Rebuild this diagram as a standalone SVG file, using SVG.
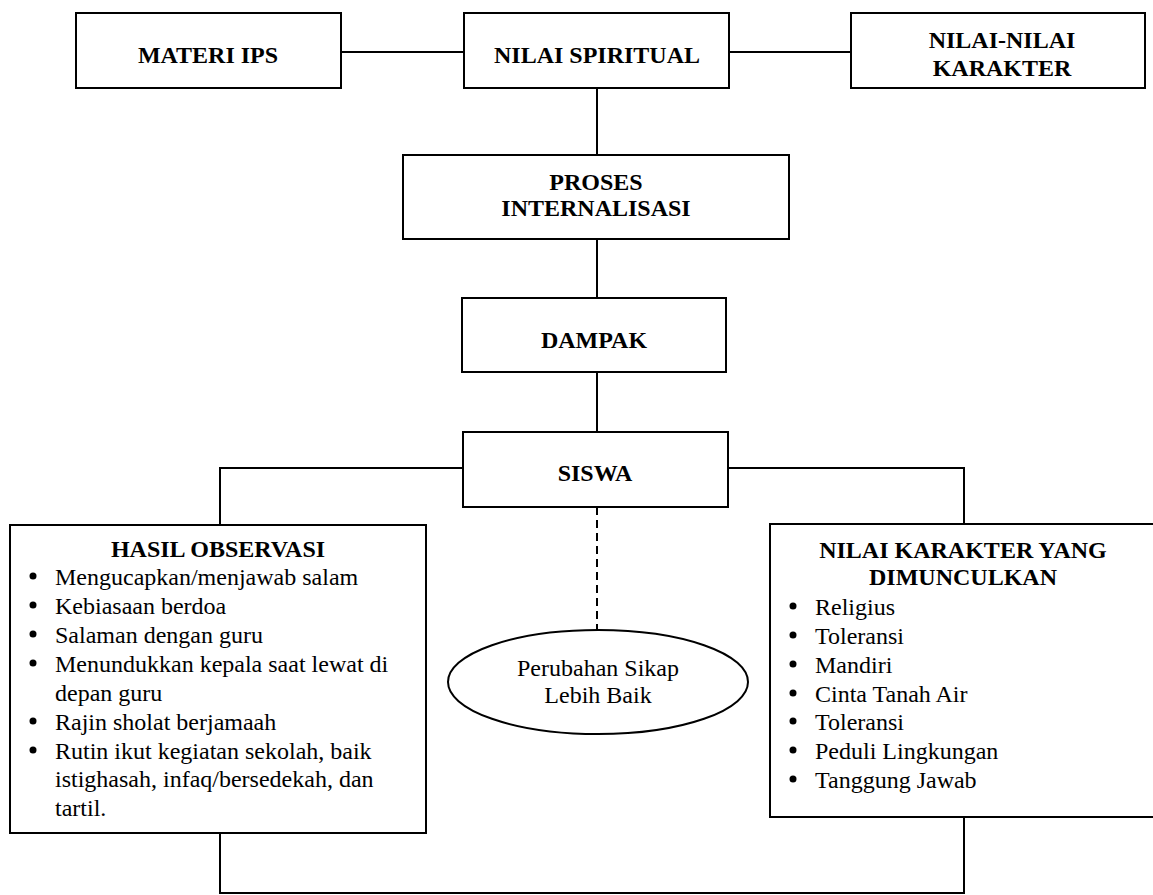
<svg xmlns="http://www.w3.org/2000/svg" width="1153" height="895" viewBox="0 0 1153 895">
<style>
.box{fill:#fff;stroke:#000;stroke-width:2}
.ln{fill:none;stroke:#000;stroke-width:2}
.dash{fill:none;stroke:#000;stroke-width:2;stroke-dasharray:8 5}
.b{font-family:"Liberation Serif","Times New Roman",serif;font-weight:bold;font-size:24px;fill:#000;text-anchor:middle}
.t{font-family:"Liberation Serif","Times New Roman",serif;font-size:24px;fill:#000}
.c{text-anchor:middle}
</style>
<rect width="1153" height="895" fill="#fff"/>
<g id="connectors">
<line class="ln" x1="341" y1="52" x2="464" y2="52"/>
<line class="ln" x1="729" y1="52" x2="851" y2="52"/>
<line class="ln" x1="597" y1="88" x2="597" y2="155"/>
<line class="ln" x1="597" y1="239" x2="597" y2="298"/>
<line class="ln" x1="597" y1="372" x2="597" y2="432"/>
<polyline class="ln" points="463,468 220,468 220,525"/>
<polyline class="ln" points="728,468 964,468 964,524"/>
<line class="dash" x1="597" y1="507" x2="597" y2="630"/>
<polyline class="ln" points="220,833 220,893 964,893 964,817"/>
</g>
<g id="materi">
<rect class="box" x="76" y="13" width="265" height="75"/>
<text class="b" x="208" y="63">MATERI IPS</text>
</g>
<g id="spiritual">
<rect class="box" x="464" y="13" width="265" height="75"/>
<text class="b" x="597" y="63">NILAI SPIRITUAL</text>
</g>
<g id="karakter">
<rect class="box" x="851" y="13" width="294" height="75"/>
<text class="b" x="1002" y="48">NILAI-NILAI</text>
<text class="b" x="1002" y="76">KARAKTER</text>
</g>
<g id="proses">
<rect class="box" x="403" y="155" width="386" height="84"/>
<text class="b" x="596" y="190">PROSES</text>
<text class="b" x="596" y="216">INTERNALISASI</text>
</g>
<g id="dampak">
<rect class="box" x="462" y="298" width="264" height="74"/>
<text class="b" x="594" y="348">DAMPAK</text>
</g>
<g id="siswa">
<rect class="box" x="463" y="432" width="265" height="75"/>
<text class="b" x="595" y="481">SISWA</text>
</g>
<g id="hasil">
<rect class="box" x="10" y="525" width="416" height="308"/>
<text class="b" x="218" y="557">HASIL OBSERVASI</text>
<g fill="#000">
<circle cx="33" cy="576" r="3.5"/>
<circle cx="33" cy="605" r="3.5"/>
<circle cx="33" cy="634" r="3.5"/>
<circle cx="33" cy="663" r="3.5"/>
<circle cx="33" cy="721" r="3.5"/>
<circle cx="33" cy="750" r="3.5"/>
</g>
<text class="t" x="55" y="585">Mengucapkan/menjawab salam</text>
<text class="t" x="55" y="614">Kebiasaan berdoa</text>
<text class="t" x="55" y="643">Salaman dengan guru</text>
<text class="t" x="55" y="672">Menundukkan kepala saat lewat di</text>
<text class="t" x="55" y="701">depan guru</text>
<text class="t" x="55" y="730">Rajin sholat berjamaah</text>
<text class="t" x="55" y="759">Rutin ikut kegiatan sekolah, baik</text>
<text class="t" x="55" y="787">istighasah, infaq/bersedekah, dan</text>
<text class="t" x="55" y="816">tartil.</text>
</g>
<g id="perubahan">
<ellipse class="box" cx="598" cy="682" rx="150" ry="52"/>
<text class="t c" x="598" y="676">Perubahan Sikap</text>
<text class="t c" x="598" y="703">Lebih Baik</text>
</g>
<g id="nilai-karakter">
<rect class="box" x="770" y="524" width="400" height="293"/>
<text class="b" x="963" y="558">NILAI KARAKTER YANG</text>
<text class="b" x="963" y="585">DIMUNCULKAN</text>
<g fill="#000">
<circle cx="793" cy="606" r="3.5"/>
<circle cx="793" cy="635" r="3.5"/>
<circle cx="793" cy="664" r="3.5"/>
<circle cx="793" cy="693" r="3.5"/>
<circle cx="793" cy="721" r="3.5"/>
<circle cx="793" cy="750" r="3.5"/>
<circle cx="793" cy="779" r="3.5"/>
</g>
<text class="t" x="815" y="615">Religius</text>
<text class="t" x="815" y="644">Toleransi</text>
<text class="t" x="815" y="673">Mandiri</text>
<text class="t" x="815" y="702">Cinta Tanah Air</text>
<text class="t" x="815" y="730">Toleransi</text>
<text class="t" x="815" y="759">Peduli Lingkungan</text>
<text class="t" x="815" y="788">Tanggung Jawab</text>
</g>
</svg>
